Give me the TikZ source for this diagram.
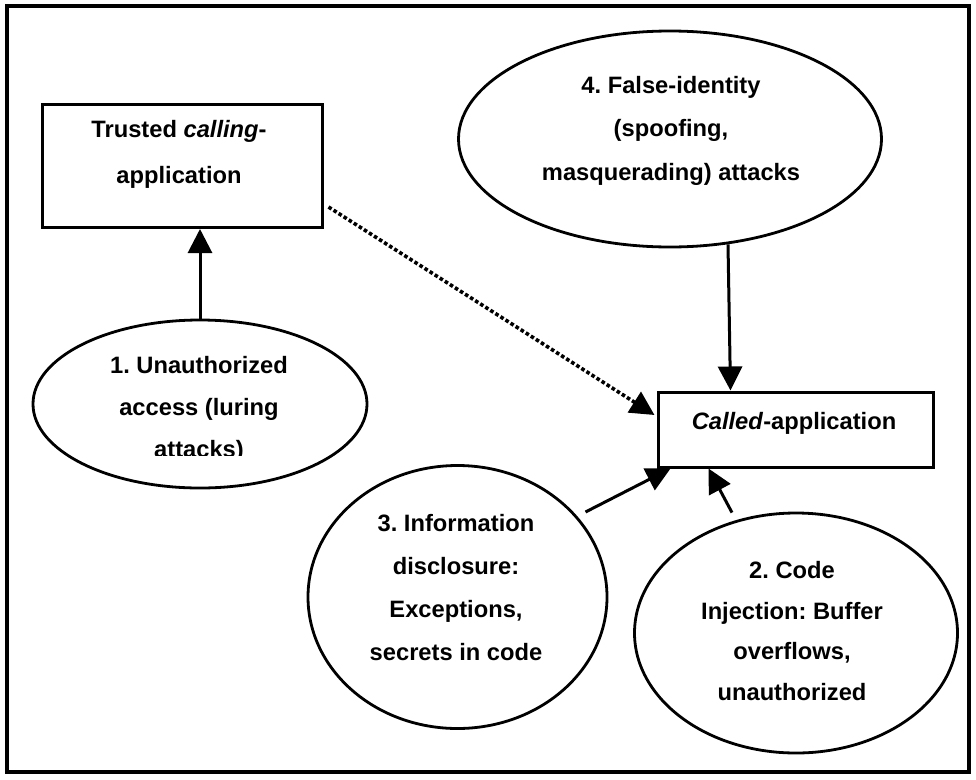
\documentclass[tikz,border=0pt]{standalone}
\usepackage{fontspec}
\setmainfont{Liberation Sans}
\usetikzlibrary{arrows.meta,shapes.geometric,calc}
\frenchspacing
\begin{document}
\begin{tikzpicture}[x=1pt,y=-1pt,
  sbox/.style={draw,line width=3pt,rectangle,inner sep=0pt},
  oval/.style={draw,line width=2.8pt,ellipse,inner sep=0pt},
  lbl/.style={align=center,inner sep=0pt,anchor=north},
  arr/.style={line width=3pt,-{Triangle[length=24pt,width=24pt]}},
  dotarr/.style={line width=3.6pt,dash pattern=on 3.6pt off 2.4pt,-{Triangle[length=24pt,width=24pt]}}]
\useasboundingbox (0,0) rectangle (976,779);
\node[draw,line width=3.5pt,rectangle,inner sep=0pt,minimum width=962pt,minimum height=766pt] (frame) at (488,389) {};
% shapes
\node[sbox,minimum width=280pt,minimum height=123pt] (trusted) at (182,166) {};
\node[sbox,minimum width=275pt,minimum height=75pt] (called) at (795.5,429.5) {};
\node[oval,minimum width=423pt,minimum height=216pt] (e4) at (670,139) {};
\node[oval,minimum width=334pt,minimum height=168pt] (e1) at (200,404) {};
\node[oval,minimum width=299pt,minimum height=263pt] (e3) at (457.5,597) {};
\node[oval,minimum width=323pt,minimum height=240pt] (e2) at (796,633) {};
% texts
\node[lbl,font=\fontsize{23.7}{46}\selectfont\bfseries] (ttrusted) at (179,120) {Trusted \textit{calling}-\\application};
\node[lbl,font=\fontsize{23.7}{43}\selectfont\bfseries] (tcalled) at (794,412) {\textit{Called}-application};
\node[lbl,font=\fontsize{23.7}{43.5}\selectfont\bfseries] (t4) at (671,76) {4. False-identity\\(spoofing,\\masquerading) attacks};
\begin{scope}
\clip (0,0) rectangle (976,455);
\node[lbl,font=\fontsize{23.7}{42}\selectfont\bfseries] (t1) at (199,356) {1. Unauthorized\\access (luring\\attacks)};
\end{scope}
\node[lbl,font=\fontsize{23.7}{43}\selectfont\bfseries] (t3) at (456,514) {3. Information\\disclosure:\\Exceptions,\\secrets in code};
\node[lbl,font=\fontsize{23.7}{40.7}\selectfont\bfseries] (t2) at (792,561) {2. Code\\Injection: Buffer\\overflows,\\unauthorized};
% connectors
\draw[arr] (e1.north) -- (e1.north |- trusted.south);
\draw[arr] ($(e4.south)+(58,-4)$) -- ($(called.north west)+(74,0)$);
\draw[dotarr] ($(trusted.south east)+(5,-22)$) -- ($(called.west)+(-2,-14.5)$);
\draw[arr] ($(e3.center)+(128,-85)$) -- ($(called.south west)+(14,0)$);
\draw[arr] ($(e2.north)+(-64,1)$) -- ($(called.south west)+(52,0)$);
\end{tikzpicture}
\end{document}
